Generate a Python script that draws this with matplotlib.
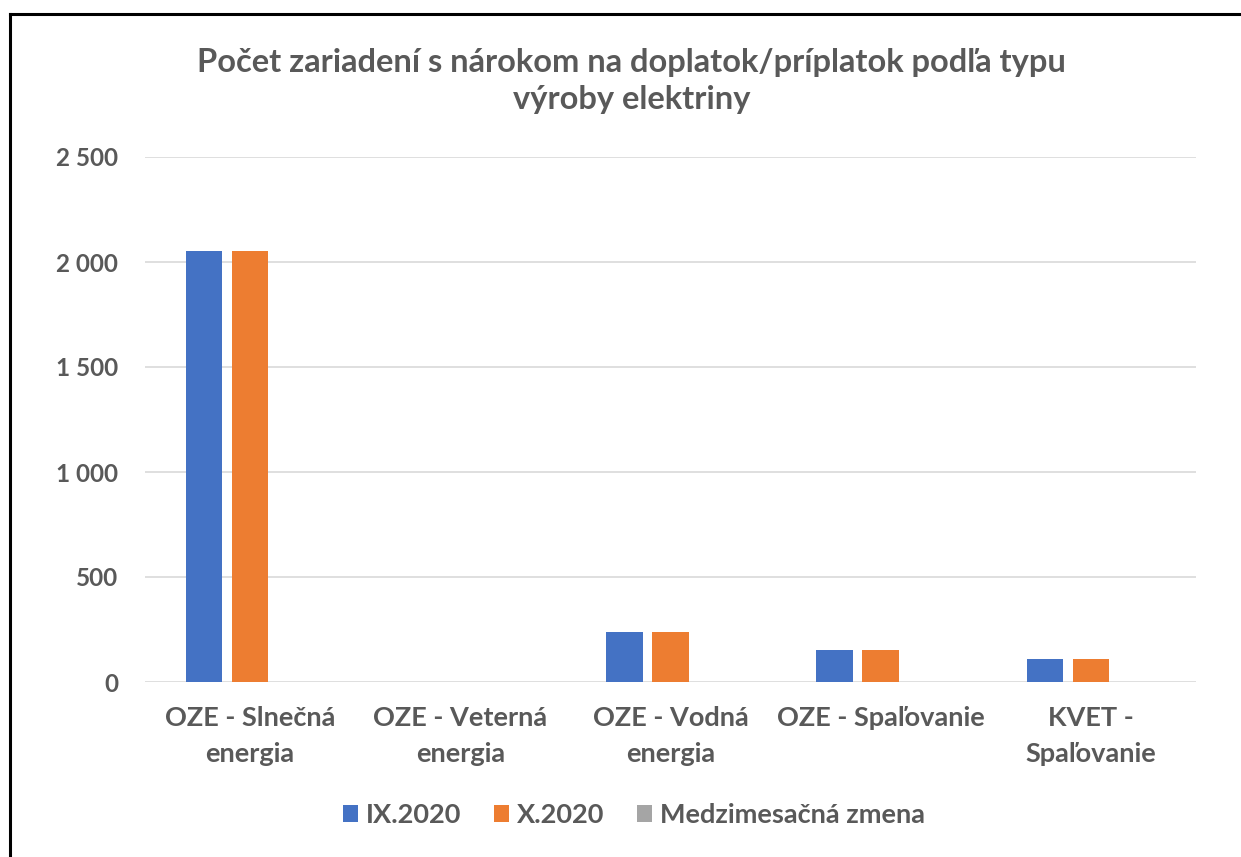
import matplotlib
matplotlib.use("Agg")
import matplotlib.pyplot as plt
import numpy as np
from matplotlib.lines import Line2D
from matplotlib.patches import Patch

categories = ["OZE - Slnečná\nenergia", "OZE - Veterná\nenergia", "OZE - Vodná\nenergia",
              "OZE - Spaľovanie", "KVET -\nSpaľovanie"]
series_names = ["IX.2020", "X.2020", "Medzimesačná zmena"]
ix_2020 = [2050, 0, 238, 152, 110]
x_2020 = [2050, 0, 238, 152, 110]
zmena = [0, 0, 0, 0, 0]
yticks = [0, 500, 1000, 1500, 2000, 2500]
ytick_labels = ["0", "500", "1 000", "1 500", "2 000", "2 500"]
title = "Počet zariadení s nárokom na doplatok/príplatok podľa typu\nvýroby elektriny"

colors = ["#4472C4", "#ED7D31", "#A5A5A5"]
text_color = "#595959"
plt.rcParams['font.family'] = ['Lato', 'DejaVu Sans']

fig = plt.figure(figsize=(12.41, 8.57), dpi=100)
ax = fig.add_axes([145/1241, 1-682/857, (1196-145)/1241, (682-157)/857])

x = np.arange(len(categories))
width = 0.174
step = 0.219
for i, (vals, name, c) in enumerate(zip([ix_2020, x_2020, zmena], series_names, colors)):
    ax.bar(x + (i - 1) * step, vals, width=width, color=c, label=name, zorder=3)

ax.set_xlim(-0.5, len(categories) - 0.5)
ax.set_ylim(0, 2500)
ax.set_yticks(yticks)
ax.set_yticklabels(ytick_labels)
ax.set_xticks(x)
ax.set_xticklabels(categories, linespacing=1.6)
ax.grid(axis='y', color='#D9D9D9', linewidth=1.2, zorder=0)
for s in ax.spines.values():
    s.set_visible(False)
ax.tick_params(axis='both', length=0, colors=text_color)
ax.tick_params(axis='y', pad=19.5, labelsize=17.5)
ax.tick_params(axis='x', pad=17, labelsize=19.5)
for lab in ax.get_xticklabels() + ax.get_yticklabels():
    lab.set_fontweight('bold')
    lab.set_color(text_color)

fig.text(0.509, 1 - 81/857, title, ha='center', va='center', fontsize=23.5,
         fontweight='bold', color=text_color, linespacing=1.35)

handles = [Patch(facecolor=c, edgecolor='none') for c in colors]
leg = fig.legend(handles, series_names, loc='center', bbox_to_anchor=(0.511, 1 - 815/857),
                 ncol=3, frameon=False, fontsize=19.5, handlelength=0.56, handleheight=0.56,
                 handletextpad=0.3, columnspacing=1.2)
for t in leg.get_texts():
    t.set_color(text_color)
    t.set_fontweight('bold')

# outer border (top and left only, as in the cropped reference)
fig.add_artist(Line2D([10/1241, 10/1241], [0, 1 - 14/857], transform=fig.transFigure,
                      color='black', linewidth=2.2))
fig.add_artist(Line2D([10/1241, 1], [1 - 14/857, 1 - 14/857], transform=fig.transFigure,
                      color='black', linewidth=2.2))

fig.savefig("out.png", dpi=100)
